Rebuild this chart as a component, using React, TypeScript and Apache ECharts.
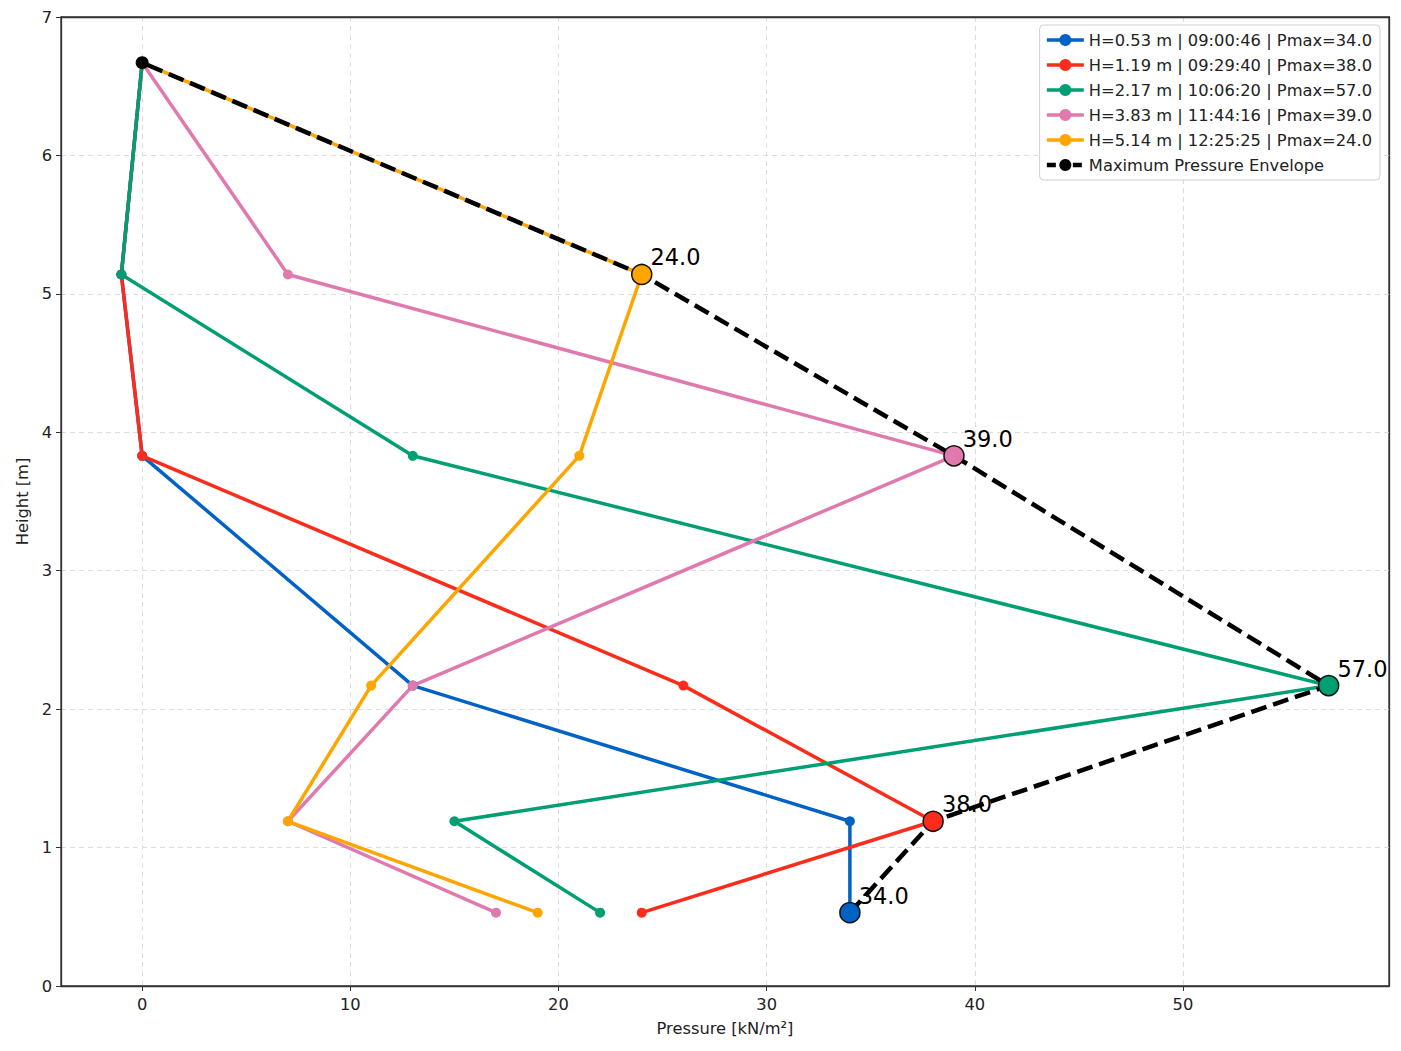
import React, { useEffect, useRef } from "react";
import * as echarts from "echarts";

const heights = [0.53, 1.19, 2.17, 3.83, 5.14, 6.67];
const seriesNames = [
  "H=0.53 m | 09:00:46 | Pmax=34.0",
  "H=1.19 m | 09:29:40 | Pmax=38.0",
  "H=2.17 m | 10:06:20 | Pmax=57.0",
  "H=3.83 m | 11:44:16 | Pmax=39.0",
  "H=5.14 m | 12:25:25 | Pmax=24.0",
];
const pressureBlue = [34, 34, 13, 0, -1, 0];
const pressureRed = [24, 38, 26, 0, -1, 0];
const pressureGreen = [22, 15, 57, 13, -1, 0];
const pressurePink = [17, 7, 13, 39, 7, 0];
const pressureOrange = [19, 7, 11, 21, 24, 0];
const envelopeName = "Maximum Pressure Envelope";
const envelopePressure = [34, 38, 57, 39, 24, 0];
const pmaxValues = [34, 38, 57, 39, 24];
const pmaxHeights = [0.53, 1.19, 2.17, 3.83, 5.14];
const xTicks = [0, 10, 20, 30, 40, 50];

const colors = ["#0062c4", "#fa2d1c", "#009e73", "#e07aae", "#ffa500"];
const FONT = "DejaVu Sans";

export default function App() {
  const ref = useRef<HTMLDivElement>(null);
  useEffect(() => {
    if (!ref.current) return;
    const chart = echarts.init(ref.current, undefined, { renderer: "svg" });
    const allPressures = [pressureBlue, pressureRed, pressureGreen, pressurePink, pressureOrange];
    const lineSeries = allPressures.map((p, i) => ({
      name: seriesNames[i],
      type: "line",
      data: p.map((v, j) => [v, heights[j]]),
      symbol: "circle",
      symbolSize: 10,
      showSymbol: true,
      itemStyle: { color: colors[i] },
      lineStyle: { color: colors[i], width: 3.5 },
      z: 2,
      silent: true,
    }));
    const envelope = {
      name: envelopeName,
      type: "line",
      data: envelopePressure.map((v, j) => [v, heights[j]]),
      symbol: "circle",
      symbolSize: 13,
      itemStyle: { color: "#000" },
      lineStyle: { color: "#000", width: 4.5, type: [16, 7] },
      z: 3,
      silent: true,
    };
    const pmax = {
      name: "pmax",
      type: "scatter",
      data: pmaxValues.map((v, i) => ({
        value: [v, pmaxHeights[i]],
        itemStyle: { color: colors[i], borderColor: "#111", borderWidth: 1.5, opacity: 1 },
      })),
      symbol: "circle",
      symbolSize: 20,
      z: 4,
      silent: true,
      label: {
        show: true,
        position: "right",
        distance: -2,
        offset: [0, -17],
        formatter: (p: any) => p.value[0].toFixed(1),
        fontFamily: FONT,
        fontSize: 22.5,
        color: "#000",
      },
    };
    const axisText = { fontFamily: FONT, fontSize: 16.3, color: "#222" };
    const legendData = [
      ...seriesNames.map((n, i) => ({ name: n, lineStyle: { width: 3.5, color: colors[i] } })),
      { name: envelopeName, lineStyle: { width: 4.5, color: "#000", type: [9, 4] } },
    ];
    const frameAxis = {
      type: "value",
      axisLine: { show: true, onZero: false, lineStyle: { color: "#333", width: 1.3 } },
      axisTick: { show: false },
      axisLabel: { show: false },
      splitLine: { show: false },
      z: 5,
    };
    chart.setOption({
      animation: false,
      backgroundColor: "#fff",
      grid: {
        left: 61,
        top: 17,
        width: 1328,
        height: 969,
        show: true,
        borderColor: "#333",
        borderWidth: 1.3,
        backgroundColor: "transparent",
      },
      legend: {
        data: legendData,
        orient: "vertical",
        right: 21,
        top: 25,
        padding: [7, 8, 7, 5],
        itemGap: 9,
        itemWidth: 37,
        itemHeight: 15,
        backgroundColor: "#fff",
        borderColor: "#d0d0d0",
        borderWidth: 1,
        borderRadius: 4,
        textStyle: { fontFamily: FONT, fontSize: 16.3, lineHeight: 16, color: "#222", padding: [0, 0, 0, 0] },
      },
      xAxis: [
        {
          type: "value",
          min: -3.9,
          max: 59.9,
          name: "Pressure [kN/m²]",
          nameLocation: "middle",
          nameGap: 34,
          nameTextStyle: axisText,
          axisLine: { show: true, onZero: false, lineStyle: { color: "#333", width: 1.3 } },
          axisTick: { show: true, length: 5, customValues: xTicks, lineStyle: { color: "#333" } },
          axisLabel: { ...axisText, margin: 10, customValues: xTicks },
          splitLine: { show: true, lineStyle: { color: "#dcdcdc", type: [5, 4], width: 1 } },
        },
        { ...frameAxis, min: -3.9, max: 59.9, position: "top" },
      ],
      yAxis: [
        {
          type: "value",
          min: 0,
          max: 7,
          interval: 1,
          name: "Height [m]",
          nameLocation: "middle",
          nameGap: 31,
          nameTextStyle: axisText,
          axisLine: { show: true, onZero: false, lineStyle: { color: "#333", width: 1.3 } },
          axisTick: { show: true, length: 5, lineStyle: { color: "#333" } },
          axisLabel: { ...axisText, margin: 9 },
          splitLine: { show: true, lineStyle: { color: "#dcdcdc", type: [5, 4], width: 1 } },
        },
        { ...frameAxis, min: 0, max: 7, position: "right" },
      ],
      series: [...lineSeries, envelope, pmax],
    });
    return () => chart.dispose();
  }, []);
  return (
    <div
      ref={ref}
      style={{ position: "fixed", left: 0, top: 0, width: 1401, height: 1051, background: "#fff" }}
    />
  );
}
